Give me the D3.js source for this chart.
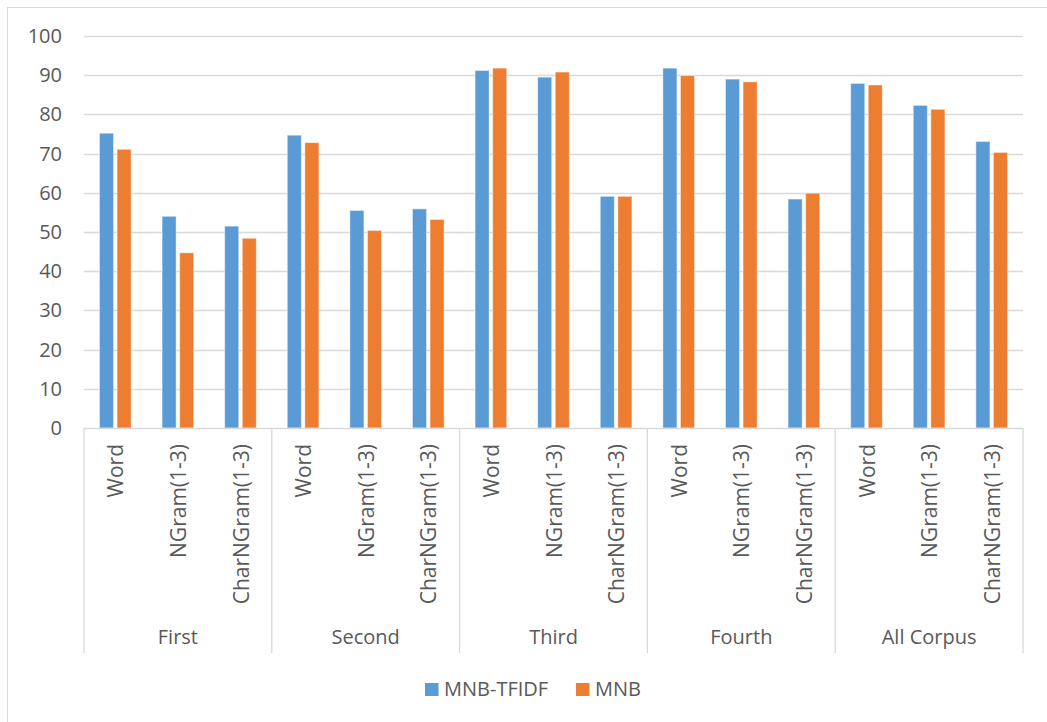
<!DOCTYPE html>
<html>
<head>
<meta charset="utf-8">
<script src="https://cdn.jsdelivr.net/npm/d3@7"></script>
<style>
  html, body { margin: 0; padding: 0; background: #fff; }
  svg { display: block; }
  text { font-family: "Open Sans", "DejaVu Sans", sans-serif; fill: #595959; }
</style>
</head>
<body>
<svg id="chart" width="1047" height="722"></svg>
<script>
// Corpus groups and the feature sets evaluated inside each one
const groups = ["First", "Second", "Third", "Fourth", "All Corpus"];
const features = ["Word", "NGram(1-3)", "CharNGram(1-3)"];
const seriesNames = ["MNB-TFIDF", "MNB"];

// Accuracy (%) per group, in feature order
const mnbTfidf = [75.2, 54.0, 51.5, 74.7, 55.5, 55.9, 91.2, 89.5, 59.1, 91.8, 89.0, 58.4, 87.9, 82.3, 73.1];
const mnb      = [71.1, 44.7, 48.4, 72.8, 50.4, 53.2, 91.8, 90.8, 59.1, 89.9, 88.3, 59.9, 87.5, 81.3, 70.3];

const yTicks = [0, 10, 20, 30, 40, 50, 60, 70, 80, 90, 100];
const colors = ["#5B9BD5", "#ED7D31"];

const svg = d3.select("#chart");

// Outer chart frame
svg.append("rect")
  .attr("x", 7.5).attr("y", 7.5)
  .attr("width", 1060).attr("height", 740)
  .attr("fill", "none").attr("stroke", "#D9D9D9").attr("stroke-width", 1);

const plot = { left: 84, right: 1023, top: 36, bottom: 428 };

// One slot per (group, feature) pair
const slots = [];
groups.forEach((g, gi) => features.forEach((f, fi) => slots.push({ g, f, i: gi * features.length + fi })));

const x = d3.scaleBand()
  .domain(slots.map(d => d.i))
  .range([plot.left, plot.right])
  .padding(0);

const xSeries = d3.scaleBand()
  .domain(seriesNames)
  .range([0, x.bandwidth()])
  .paddingInner(0.2)
  .paddingOuter(0.88);

const y = d3.scaleLinear().domain([0, 100]).range([plot.bottom, plot.top]);

// Horizontal gridlines
svg.append("g")
  .selectAll("line")
  .data(yTicks.filter(t => t > 0))
  .join("line")
  .attr("x1", plot.left).attr("x2", plot.right)
  .attr("y1", d => Math.round(y(d)) + 0.5).attr("y2", d => Math.round(y(d)) + 0.5)
  .attr("stroke", "#D9D9D9").attr("stroke-width", 1.3);

// Y axis labels
const yAxis = svg.append("g")
  .attr("transform", `translate(${plot.left},0)`)
  .call(d3.axisLeft(y).tickValues(yTicks).tickSize(0).tickPadding(22));
yAxis.select(".domain").remove();
yAxis.selectAll("text")
  .style("font-size", "20px")
  .style("font-family", "'Open Sans', sans-serif")
  .attr("fill", "#595959");

// Bars
const seriesData = [mnbTfidf, mnb];
seriesNames.forEach((name, si) => {
  svg.append("g")
    .selectAll("rect")
    .data(slots)
    .join("rect")
    .attr("x", d => x(d.i) + xSeries(name))
    .attr("width", xSeries.bandwidth())
    .attr("y", d => y(seriesData[si][d.i]))
    .attr("height", d => y(0) - y(seriesData[si][d.i]))
    .attr("fill", colors[si])
    .attr("stroke", "#ffffff").attr("stroke-opacity", 0.45).attr("stroke-width", 1);
});

// Category axis baseline
svg.append("line")
  .attr("x1", plot.left).attr("x2", plot.right)
  .attr("y1", plot.bottom + 0.5).attr("y2", plot.bottom + 0.5)
  .attr("stroke", "#D9D9D9").attr("stroke-width", 1.3);

// Group separators
const groupWidth = x.bandwidth() * features.length;
const sepBottom = 653;
svg.append("g")
  .selectAll("line")
  .data(d3.range(groups.length + 1))
  .join("line")
  .attr("x1", d => plot.left + d * groupWidth).attr("x2", d => plot.left + d * groupWidth)
  .attr("y1", plot.bottom).attr("y2", sepBottom)
  .attr("stroke", "#D9D9D9").attr("stroke-width", 1.3);

// Rotated feature labels
svg.append("g")
  .selectAll("text")
  .data(slots)
  .join("text")
  .attr("transform", d => `translate(${x(d.i) + x.bandwidth() / 2},444) rotate(-90)`)
  .attr("text-anchor", "end")
  .attr("dominant-baseline", "central")
  .style("font-size", "21px")
  .text(d => d.f);

// Group labels
svg.append("g")
  .selectAll("text")
  .data(groups)
  .join("text")
  .attr("x", (d, i) => plot.left + (i + 0.5) * groupWidth)
  .attr("y", 644)
  .attr("text-anchor", "middle")
  .style("font-size", "20px")
  .text(d => d);

// Legend
const legendItems = [
  { name: seriesNames[0], sx: 425, tx: 444 },
  { name: seriesNames[1], sx: 576, tx: 595 }
];
const legend = svg.append("g");
legendItems.forEach((d, i) => {
  legend.append("rect")
    .attr("x", d.sx).attr("y", 683)
    .attr("width", 13.5).attr("height", 13)
    .attr("fill", colors[i]);
  legend.append("text")
    .attr("x", d.tx).attr("y", 696)
    .style("font-size", "20px")
    .text(d.name);
});
</script>
</body>
</html>
